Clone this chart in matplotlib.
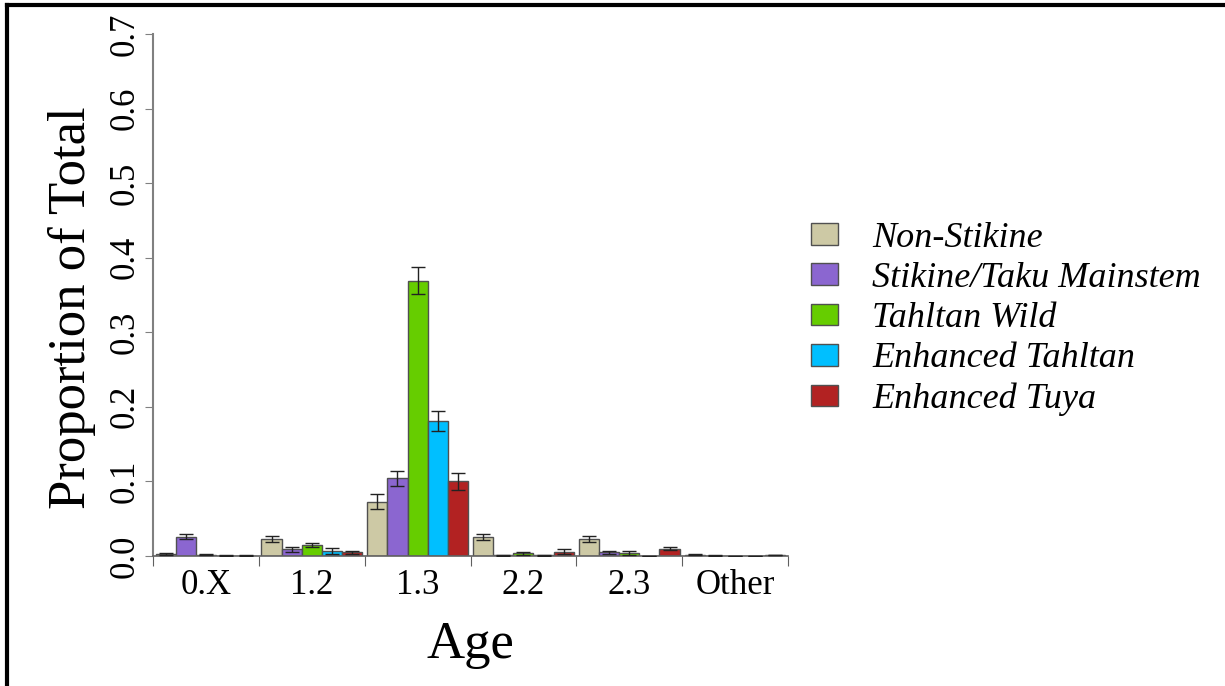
import numpy as np
import matplotlib
matplotlib.use("Agg")
import matplotlib.pyplot as plt
from matplotlib.lines import Line2D
from matplotlib.patches import Patch

plt.rcParams['font.family'] = ['Liberation Serif', 'DejaVu Serif']

# age classes and stock groups
ages = ['0.X', '1.2', '1.3', '2.2', '2.3', 'Other']
stocks = ['Non-Stikine', 'Stikine/Taku Mainstem', 'Tahltan Wild',
          'Enhanced Tahltan', 'Enhanced Tuya']
colors = ['#CDC9A5', '#8B66D0', '#66CD00', '#00BFFF', '#B22222']

# proportions (rows = stock, cols = age)
non_stikine = [0.003, 0.023, 0.073, 0.025, 0.023, 0.002]
mainstem = [0.026, 0.009, 0.104, 0.001, 0.005, 0.0005]
tahltan_wild = [0.002, 0.015, 0.369, 0.004, 0.004, 0.0003]
enh_tahltan = [0.0005, 0.007, 0.181, 0.001, 0.0003, 0.0003]
enh_tuya = [0.0005, 0.005, 0.100, 0.006, 0.010, 0.0015]

# error (half width)
err_non = [0.001, 0.004, 0.010, 0.004, 0.004, 0.0005]
err_main = [0.003, 0.003, 0.010, 0.0005, 0.002, 0.0003]
err_wild = [0.001, 0.003, 0.018, 0.002, 0.003, 0.0002]
err_enht = [0.0003, 0.004, 0.014, 0.0005, 0.0002, 0.0002]
err_tuya = [0.0003, 0.002, 0.011, 0.003, 0.002, 0.0005]

values = [non_stikine, mainstem, tahltan_wild, enh_tahltan, enh_tuya]
errors = [err_non, err_main, err_wild, err_enht, err_tuya]

fig = plt.figure(figsize=(12.25, 6.86), dpi=100)
ax = fig.add_axes([0.1249, 0.1895, 0.5184, 0.761])

x = np.arange(len(ages))
w = 0.19
for j in range(len(stocks)):
    ax.bar(x + (j - 2) * w, values[j], width=w, color=colors[j],
           edgecolor='#505050', linewidth=1.0, label=stocks[j], zorder=2)
    ax.errorbar(x + (j - 2) * w, values[j], yerr=errors[j], fmt='none',
                ecolor='#222222', elinewidth=1.0, capsize=5, capthick=1.0,
                zorder=3)

ax.set_xlim(-0.5, 5.5)
ax.set_ylim(0, 0.7)
ax.set_yticks(np.arange(0, 0.71, 0.1))
ax.set_yticklabels(['%.1f' % v for v in np.arange(0, 0.71, 0.1)],
                   rotation=90, va='center', fontsize=25)
ax.tick_params(axis='y', length=6, color='#808080', pad=2)

# boundaries get tick marks, centres get labels
ax.set_xticks(np.arange(-0.5, 5.6, 1.0))
ax.set_xticklabels([])
ax.tick_params(axis='x', which='major', length=7, color='#606060')
ax.set_xticks(x, minor=True)
ax.set_xticklabels(ages, minor=True, fontsize=25)
ax.tick_params(axis='x', which='minor', length=0, pad=9)

for s in ['top', 'right']:
    ax.spines[s].set_visible(False)
ax.spines['left'].set_color('#808080')
ax.spines['bottom'].set_color('#606060')
ax.spines['left'].set_linewidth(1.5)
ax.spines['bottom'].set_linewidth(1.2)

ax.set_ylabel('Proportion of Total', fontsize=38)
ax.yaxis.set_label_coords(-0.089, 0.475)
ax.set_xlabel('Age', fontsize=38, labelpad=14)

handles = [Patch(facecolor=c, edgecolor='#505050') for c in colors]
leg = fig.legend(handles, stocks, loc='center left',
                 bbox_to_anchor=(811 / 1225, 0.535), frameon=False,
                 prop={'style': 'italic', 'size': 26},
                 handlelength=0.75, handleheight=0.55, labelspacing=0.2,
                 handletextpad=0.95, borderpad=0, borderaxespad=0)

# frame around the figure (left and top edges visible)
fig.add_artist(Line2D([0.006, 0.006], [0, 0.993], color='black',
                      linewidth=3, transform=fig.transFigure))
fig.add_artist(Line2D([0.006, 1.0], [0.993, 0.993], color='black',
                      linewidth=3, transform=fig.transFigure))

fig.savefig('out.png', dpi=100)
